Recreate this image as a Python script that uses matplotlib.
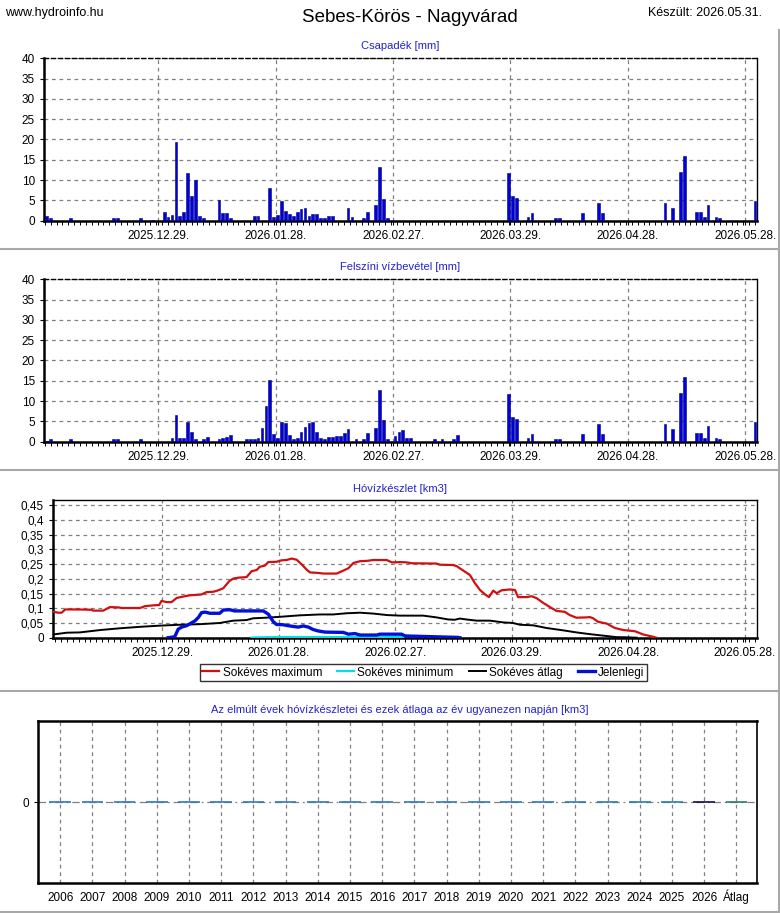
import matplotlib
matplotlib.use('Agg')
import matplotlib.pyplot as plt
from matplotlib.ticker import MultipleLocator, FixedLocator
from matplotlib.lines import Line2D

plt.rcParams['font.family'] = ['Liberation Sans', 'DejaVu Sans']

# napok 2025.11.30-tól számolva
date_ticks = [29, 59, 89, 119, 149, 179]
date_labels = ['2025.12.29.', '2026.01.28.', '2026.02.27.', '2026.03.29.', '2026.04.28.', '2026.05.28.']

# Csapadék [mm]
csap_days = [0, 1, 6, 17, 18, 24, 27,
             30, 31, 32, 33, 34, 35, 36, 37, 38, 39, 40,
             44, 45, 46, 47, 53, 54,
             57, 58, 59, 60, 61, 62, 63, 64, 65, 66, 67, 68, 69, 70, 71, 72, 73,
             77, 78, 81, 82, 84, 85, 86, 87,
             118, 119, 120, 123, 124, 130, 131, 137, 141, 142,
             158, 160, 162, 163, 166, 167, 168, 169, 171, 172, 181]
csap_vals = [1.2, 0.65, 0.65, 0.6, 0.6, 0.6, 0.2,
             2.1, 1.0, 1.4, 19.4, 1.15, 2.1, 11.7, 6.1, 10.0, 1.15, 0.65,
             5.1, 1.9, 1.9, 0.65, 1.15, 1.15,
             8.0, 0.9, 1.4, 4.8, 2.4, 1.6, 1.15, 2.1, 2.8, 3.1, 1.15, 1.6, 1.6, 0.65, 0.65, 1.15, 1.15,
             3.1, 0.9, 0.65, 2.1, 3.9, 13.2, 5.3, 0.65,
             11.8, 6.1, 5.6, 0.9, 1.9, 0.65, 0.65, 1.9, 4.35, 1.9,
             4.35, 3.1, 12.0, 16.0, 2.1, 2.1, 0.9, 3.9, 0.9, 0.65, 4.85]

# Felszíni vízbevétel [mm]
felsz_days = [0, 1, 6, 17, 18, 24,
              32, 33, 34, 35, 36, 37, 38, 40, 41, 44, 45, 46, 47,
              51, 52, 53, 54, 55, 56, 57, 58, 59, 60, 61, 62, 63, 64, 65, 66, 67, 68, 69, 70,
              71, 72, 73, 74, 75, 76, 77, 79, 81, 82, 84, 85, 86, 87,
              89, 90, 91, 92, 93, 99, 101, 104, 105,
              118, 119, 120, 123, 124, 130, 131, 137, 141, 142,
              158, 160, 162, 163, 166, 167, 168, 169, 171, 172, 181]
felsz_vals = [0.25, 0.65, 0.65, 0.6, 0.6, 0.65,
              0.9, 6.6, 0.9, 0.9, 4.85, 2.4, 0.65, 0.65, 1.15, 0.65, 0.9, 1.15, 1.65,
              0.65, 0.65, 0.65, 0.9, 3.4, 8.8, 15.2, 1.9, 0.9, 4.85, 4.6, 1.65, 0.65, 0.9, 2.4, 3.6, 4.6, 4.85, 2.4, 0.9,
              0.65, 1.15, 1.15, 1.4, 1.4, 2.1, 3.1, 0.65, 0.65, 2.1, 3.4, 12.7, 5.3, 0.65,
              1.4, 2.4, 2.9, 0.9, 0.9, 0.65, 0.65, 0.65, 1.65,
              11.75, 6.1, 5.6, 0.9, 1.9, 0.65, 0.65, 1.9, 4.35, 1.9,
              4.35, 3.1, 12.0, 15.9, 2.1, 2.1, 0.9, 3.9, 0.9, 0.65, 4.85]

# Hóvízkészlet [km3]
max_x = [1.0, 2.2, 3.1, 4.0, 7.0, 10.8, 11.2, 13.8, 15.5, 17.7, 18.5, 23.3, 24.5, 26.7, 28.2, 28.8,
         30.1, 31.4, 32.7, 34.8, 36.1, 39.1, 40.4, 42.1, 43.4, 44.7, 46.3, 47.3, 48.6, 50.7, 52.0,
         53.3, 54.1, 55.4, 56.3, 58.4, 59.7, 61.0, 62.3, 63.6, 64.9, 66.2, 67.0, 69.2, 70.5, 73.9,
         75.6, 76.9, 78.2, 79.9, 81.6, 83.3, 86.8, 88.1, 90.2, 91.9, 93.2, 99.6, 100.5, 103.9, 104.8,
         106.5, 108.2, 109.5, 110.8, 112.1, 113.1, 114.2, 115.1, 116.3, 118.5, 119.8, 120.6, 122.8,
         124.1, 125.4, 127.1, 128.8, 130.5, 132.6, 133.9, 135.6, 138.2, 139.1, 139.9, 141.2, 143.4,
         145.5, 147.7, 150.7, 152.8, 155.4, 156.2]
max_y = [0.088, 0.085, 0.085, 0.096, 0.096, 0.095, 0.092, 0.092, 0.104, 0.103, 0.101, 0.101, 0.107,
         0.110, 0.111, 0.125, 0.121, 0.121, 0.135, 0.141, 0.144, 0.147, 0.155, 0.156, 0.161, 0.168,
         0.193, 0.201, 0.204, 0.206, 0.226, 0.230, 0.241, 0.245, 0.257, 0.258, 0.263, 0.264, 0.269,
         0.265, 0.249, 0.231, 0.222, 0.220, 0.218, 0.218, 0.228, 0.236, 0.254, 0.260, 0.261, 0.264,
         0.264, 0.256, 0.257, 0.256, 0.253, 0.252, 0.248, 0.247, 0.243, 0.228, 0.213, 0.185, 0.162,
         0.147, 0.138, 0.160, 0.151, 0.161, 0.164, 0.162, 0.138, 0.138, 0.141, 0.134, 0.118, 0.104,
         0.091, 0.088, 0.077, 0.068, 0.069, 0.070, 0.066, 0.054, 0.048, 0.033, 0.026, 0.022, 0.011,
         0.003, 0.0]
min_x = [52.0, 52.5, 58.0, 90.5, 91.0]
min_y = [0.0, 0.001, 0.002, 0.002, 0.0]
avg_x = [1.0, 4.4, 7.8, 13.0, 18.1, 23.3, 28.4, 33.5, 38.7, 43.8, 47.3, 50.7, 52.4, 55.8, 59.3, 64.4,
         69.6, 73.0, 76.4, 79.9, 83.3, 86.8, 90.2, 96.2, 99.6, 102.6, 104.3, 105.6, 107.3, 109.9, 113.3,
         116.8, 119.3, 121.1, 124.5, 127.9, 132.2, 135.6, 139.1, 142.5, 145.9, 149.4, 151.1]
avg_y = [0.011, 0.017, 0.018, 0.026, 0.032, 0.037, 0.041, 0.044, 0.046, 0.050, 0.058, 0.060, 0.066,
         0.068, 0.071, 0.076, 0.079, 0.079, 0.083, 0.085, 0.082, 0.077, 0.075, 0.075, 0.069, 0.062,
         0.061, 0.065, 0.062, 0.058, 0.058, 0.052, 0.050, 0.044, 0.042, 0.033, 0.025, 0.018, 0.012,
         0.007, 0.002, 0.001, 0.0]
cur_x = [30.5, 32.2, 33.1, 34.0, 35.3, 36.6, 37.4, 38.3, 39.1, 40.0, 41.3, 43.8, 44.7, 46.4, 47.6,
         55.0, 56.3, 57.6, 58.4, 60.1, 61.8, 64.0, 65.3, 66.6, 67.8, 69.1, 70.9, 75.6, 76.9, 78.6,
         79.9, 84.2, 85.0, 90.2, 90.6, 91.5, 99.6, 105.2, 105.6]
cur_y = [0.0, 0.003, 0.029, 0.036, 0.041, 0.051, 0.057, 0.069, 0.085, 0.087, 0.083, 0.083, 0.094,
         0.095, 0.091, 0.091, 0.080, 0.054, 0.045, 0.044, 0.040, 0.036, 0.040, 0.036, 0.028, 0.023,
         0.019, 0.018, 0.012, 0.014, 0.009, 0.009, 0.012, 0.012, 0.012, 0.006, 0.003, 0.001, 0.0]

# elmúlt évek
years = [str(y) for y in range(2006, 2027)] + ['Átlag']
year_vals = [0.0] * len(years)
year_colors = ['#2f78c4'] * 20 + ['#10104a', '#2a7a70']

title_blue = '#2222cc'

fig = plt.figure(figsize=(7.8, 9.13), dpi=100)
W, H = 780.0, 913.0


def box(x0, y0, x1, y1):
    return [x0 / W, 1 - y1 / H, (x1 - x0) / W, (y1 - y0) / H]


def style_axes(ax, top_dashed=False):
    for s in ['left', 'bottom']:
        ax.spines[s].set_linewidth(1.8)
    ax.spines['right'].set_linewidth(1.0)
    ax.spines['top'].set_linewidth(1.0)
    if top_dashed:
        ax.spines['top'].set_linestyle((0, (3, 2)))
    ax.grid(True, which='major', color='#808080', linestyle=(0, (3, 3)), linewidth=0.9)
    ax.tick_params(axis='both', which='major', labelsize=8.5, length=3, width=0.8)
    ax.tick_params(axis='x', which='minor', length=3, width=0.7)
    ax.set_axisbelow(True)


def bar_panel(rect, days, vals, title):
    ax = fig.add_axes(box(*rect))
    ax.bar([d + 0.5 for d in days], vals, width=0.7, color='#0000dd',
           edgecolor='#000080', linewidth=0.4, zorder=3)
    ax.set_xlim(-0.2, 182.0)
    ax.set_ylim(0, 40)
    ax.yaxis.set_major_locator(MultipleLocator(5))
    ax.xaxis.set_major_locator(FixedLocator(date_ticks))
    ax.set_xticklabels(date_labels)
    ax.xaxis.set_minor_locator(MultipleLocator(1.5))
    style_axes(ax, top_dashed=True)
    fig.text(0.513, 1 - (rect[1] - 12) / H, title, color=title_blue, fontsize=8,
             ha='center', va='center')
    return ax


bar_panel((44, 58.3, 757, 220.7), csap_days, csap_vals, 'Csapadék [mm]')
bar_panel((44, 279.3, 757, 441.7), felsz_days, felsz_vals, 'Felszíni vízbevétel [mm]')

# Hóvízkészlet
ax3 = fig.add_axes(box(53, 500.3, 757, 637.7))
ax3.plot(max_x, max_y, color='#d01010', linewidth=1.6, label='Sokéves maximum', zorder=4)
ax3.plot(min_x, min_y, color='#00e0e8', linewidth=1.6, label='Sokéves minimum', zorder=3)
ax3.plot(avg_x, avg_y, color='black', linewidth=1.4, label='Sokéves átlag', zorder=4)
ax3.plot(cur_x, cur_y, color='#0010d8', linewidth=2.4, label='Jelenlegi', zorder=5)
ax3.set_xlim(0.87, 182.1)
ax3.set_ylim(0, 0.467)
ax3.yaxis.set_major_locator(FixedLocator([0.05 * i for i in range(10)]))
ax3.set_yticklabels(['0', '0,05', '0,1', '0,15', '0,2', '0,25', '0,3', '0,35', '0,4', '0,45'])
ax3.xaxis.set_major_locator(FixedLocator(date_ticks))
ax3.set_xticklabels(date_labels)
ax3.xaxis.set_minor_locator(MultipleLocator(1.5))
style_axes(ax3)
fig.text(0.513, 1 - 489 / H, 'Hóvízkészlet [km3]', color=title_blue, fontsize=8,
         ha='center', va='center')
leg = fig.legend(loc='center', bbox_to_anchor=(0.543, 1 - 672.6 / H), ncol=4, fontsize=8.5,
                 frameon=True, fancybox=False, edgecolor='black', handlelength=1.4,
                 handletextpad=0.3, columnspacing=1.3, borderpad=0.2, borderaxespad=0)
leg.get_frame().set_linewidth(1.0)

# Az elmúlt évek
ax4 = fig.add_axes(box(38, 721, 757, 883.3))
xs = list(range(len(years)))
ax4.bar(xs, year_vals, width=0.67, color=year_colors, edgecolor=year_colors,
        linewidth=1.2, zorder=3)
ax4.axhline(0, color='#808080', linestyle=(0, (6, 3, 1.5, 3)), linewidth=0.9, zorder=2)
ax4.set_xlim(-0.69, 21.64)
ax4.set_ylim(-1, 1)
ax4.set_xticks(xs)
ax4.set_xticklabels(years)
ax4.set_yticks([0])
ax4.set_yticklabels(['0'])
ax4.grid(True, axis='x', color='#808080', linestyle=(0, (3, 3)), linewidth=0.9)
ax4.tick_params(axis='x', length=0, labelsize=8.5, pad=6)
ax4.tick_params(axis='y', length=3, labelsize=8.5)
for lbl in ax4.get_xticklabels():
    lbl.set_va('baseline')
    lbl.set_y(-0.055)
for s in ['left', 'bottom', 'top']:
    ax4.spines[s].set_linewidth(1.8)
ax4.spines['right'].set_linewidth(1.2)
fig.text(0.513, 1 - 710 / H,
         'Az elmúlt évek hóvízkészletei és ezek átlaga az év ugyanezen napján [km3]',
         color=title_blue, fontsize=8, ha='center', va='center')

# fejléc
fig.text(5 / W, 1 - 13 / H, 'www.hydroinfo.hu', fontsize=9, ha='left', va='center')
fig.text(410 / W, 1 - 18 / H, 'Sebes-Körös - Nagyvárad', fontsize=13.5, ha='center', va='center')
fig.text(762 / W, 1 - 13 / H, 'Készült: 2026.05.31.', fontsize=9, ha='right', va='center')

# elválasztó vonalak
sep = '#a8a8a8'
for yy in [249.5, 470.5, 691, 911.5]:
    fig.add_artist(Line2D([0, 779 / W], [1 - yy / H, 1 - yy / H], color=sep, linewidth=1.5))
fig.add_artist(Line2D([779 / W, 779 / W], [1 - 30 / H, 1 - 912 / H], color=sep, linewidth=1.5))

fig.savefig('out.png', dpi=100)
